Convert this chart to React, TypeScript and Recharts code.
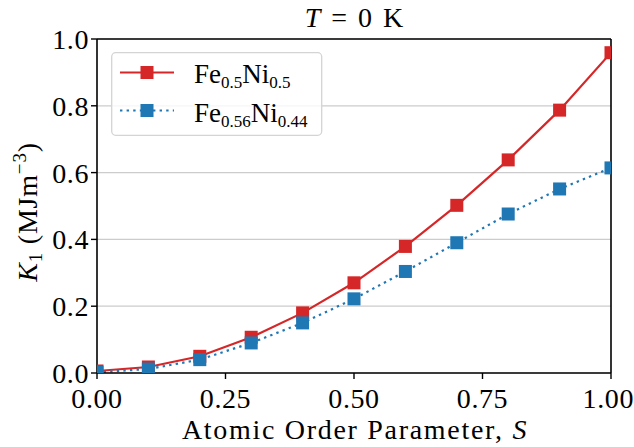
import {
  CartesianGrid,
  Label,
  Legend,
  Line,
  LineChart,
  ReferenceLine,
  XAxis,
  YAxis,
} from "recharts";

const ORDER = [0, 0.1, 0.2, 0.3, 0.4, 0.5, 0.6, 0.7, 0.8, 0.9, 1.0];
const K1_FE50 = [0.006, 0.018, 0.05, 0.107, 0.18, 0.27, 0.379, 0.502, 0.638, 0.787, 0.959];
const K1_FE56 = [0.002, 0.012, 0.04, 0.09, 0.15, 0.222, 0.304, 0.39, 0.476, 0.551, 0.614];
const X_TICKS = [0, 0.25, 0.5, 0.75, 1.0];
const Y_TICKS = [0, 0.2, 0.4, 0.6, 0.8, 1.0];

const RED = "#d62728";
const BLUE = "#1f77b4";
const FONT = "'Liberation Serif', 'DejaVu Serif', serif";
const FS = 28;
const DOTS = "2.4 4.2";

const data = ORDER.map((s, i) => ({ s, a: K1_FE50[i], b: K1_FE56[i] }));

const square = (color: string) => (props: any) => {
  const { cx, cy, index } = props;
  if (cx == null || cy == null) return <g key={index} />;
  return <rect key={index} x={cx - 6.5} y={cy - 6.5} width={13} height={13} fill={color} />;
};

function LegendBox() {
  return (
    <svg width={212} height={85} style={{ display: "block" }}>
      <rect x={0.7} y={0.7} width={210} height={82.6} rx={4} fill="rgba(255,255,255,0.8)" stroke="#d4d4d4" strokeWidth={1.3} />
      <line x1={9} x2={63} y1={20.5} y2={20.5} stroke={RED} strokeWidth={2.2} />
      <rect x={29.5} y={14} width={13} height={13} fill={RED} />
      <line x1={9} x2={63} y1={58.5} y2={58.5} stroke={BLUE} strokeWidth={2.2} strokeDasharray={DOTS} />
      <rect x={29.5} y={52} width={13} height={13} fill={BLUE} />
      <text x={83} y={31} fontFamily={FONT} fontSize={27} fill="#000">
        Fe<tspan fontSize={17} dy={5}>0.5</tspan>
        <tspan dy={-5}>Ni</tspan>
        <tspan fontSize={17} dy={5}>0.5</tspan>
      </text>
      <text x={83} y={69.5} fontFamily={FONT} fontSize={27} fill="#000">
        Fe<tspan fontSize={17} dy={5}>0.56</tspan>
        <tspan dy={-5}>Ni</tspan>
        <tspan fontSize={17} dy={5}>0.44</tspan>
      </text>
    </svg>
  );
}

function YLabel() {
  return (
    <text
      transform="translate(37,212) rotate(-90)"
      textAnchor="middle"
      fontFamily={FONT}
      fontSize={FS}
      fill="#000"
      letterSpacing={0.8}
    >
      <tspan fontStyle="italic">K</tspan>
      <tspan fontSize={19} dy={5}>1</tspan>
      <tspan dy={-5}> (MJm</tspan>
      <tspan fontSize={19} dy={-11}>−3</tspan>
      <tspan dy={11}>)</tspan>
    </text>
  );
}

function XLabel() {
  return (
    <text x={355} y={439} textAnchor="middle" fontFamily={FONT} fontSize={FS} fill="#000" letterSpacing={1.7}>
      Atomic Order Parameter, <tspan fontStyle="italic">S</tspan>
    </text>
  );
}

export default function App() {
  return (
    <div style={{ position: "fixed", left: 0, top: 0, width: 634, height: 447, background: "#fff" }}>
      <svg width={634} height={40} style={{ position: "absolute", left: 0, top: 0 }}>
        <text x={355} y={27} textAnchor="middle" fontFamily={FONT} fontSize={FS} fill="#000" letterSpacing={2}>
          <tspan fontStyle="italic">T</tspan> = 0 K
        </text>
      </svg>
      <LineChart width={634} height={447} data={data} margin={{ top: 39, right: 23, bottom: 0, left: 0 }}>
        <CartesianGrid vertical={false} stroke="#cccccc" strokeWidth={1.2} />
        <XAxis
          dataKey="s"
          type="number"
          domain={[0, 1]}
          ticks={X_TICKS}
          allowDataOverflow
          tickFormatter={(v: number) => v.toFixed(2)}
          height={74}
          axisLine={{ stroke: "#000", strokeWidth: 1.6 }}
          tickLine={{ stroke: "#000", strokeWidth: 1.4 }}
          tickSize={6}
          tickMargin={9}
          tick={{ fill: "#000", fontFamily: FONT, fontSize: FS, letterSpacing: 0.6 }}
        >
          <Label content={<XLabel />} />
        </XAxis>
        <YAxis
          type="number"
          domain={[0, 1]}
          ticks={Y_TICKS}
          allowDataOverflow
          tickFormatter={(v: number) => v.toFixed(1)}
          width={97}
          axisLine={{ stroke: "#000", strokeWidth: 1.6 }}
          tickLine={{ stroke: "#000", strokeWidth: 1.4 }}
          tickSize={6}
          tick={{ fill: "#000", fontFamily: FONT, fontSize: FS, letterSpacing: 0.6 }}
        >
          <Label content={<YLabel />} />
        </YAxis>
        <ReferenceLine y={1} stroke="#000" strokeWidth={1.6} />
        <ReferenceLine x={1} stroke="#000" strokeWidth={1.6} />
        <Line
          dataKey="a"
          stroke={RED}
          strokeWidth={2.2}
          dot={square(RED)}
          activeDot={false}
          isAnimationActive={false}
        />
        <Line
          dataKey="b"
          stroke={BLUE}
          strokeWidth={2.2}
          strokeDasharray={DOTS}
          dot={square(BLUE)}
          activeDot={false}
          isAnimationActive={false}
        />
        <Legend
          layout="horizontal"
          verticalAlign="middle"
          align="center"
          content={<LegendBox />}
          wrapperStyle={{ position: "absolute", left: 111, top: 52, width: 212, height: 85 }}
        />
      </LineChart>
    </div>
  );
}
